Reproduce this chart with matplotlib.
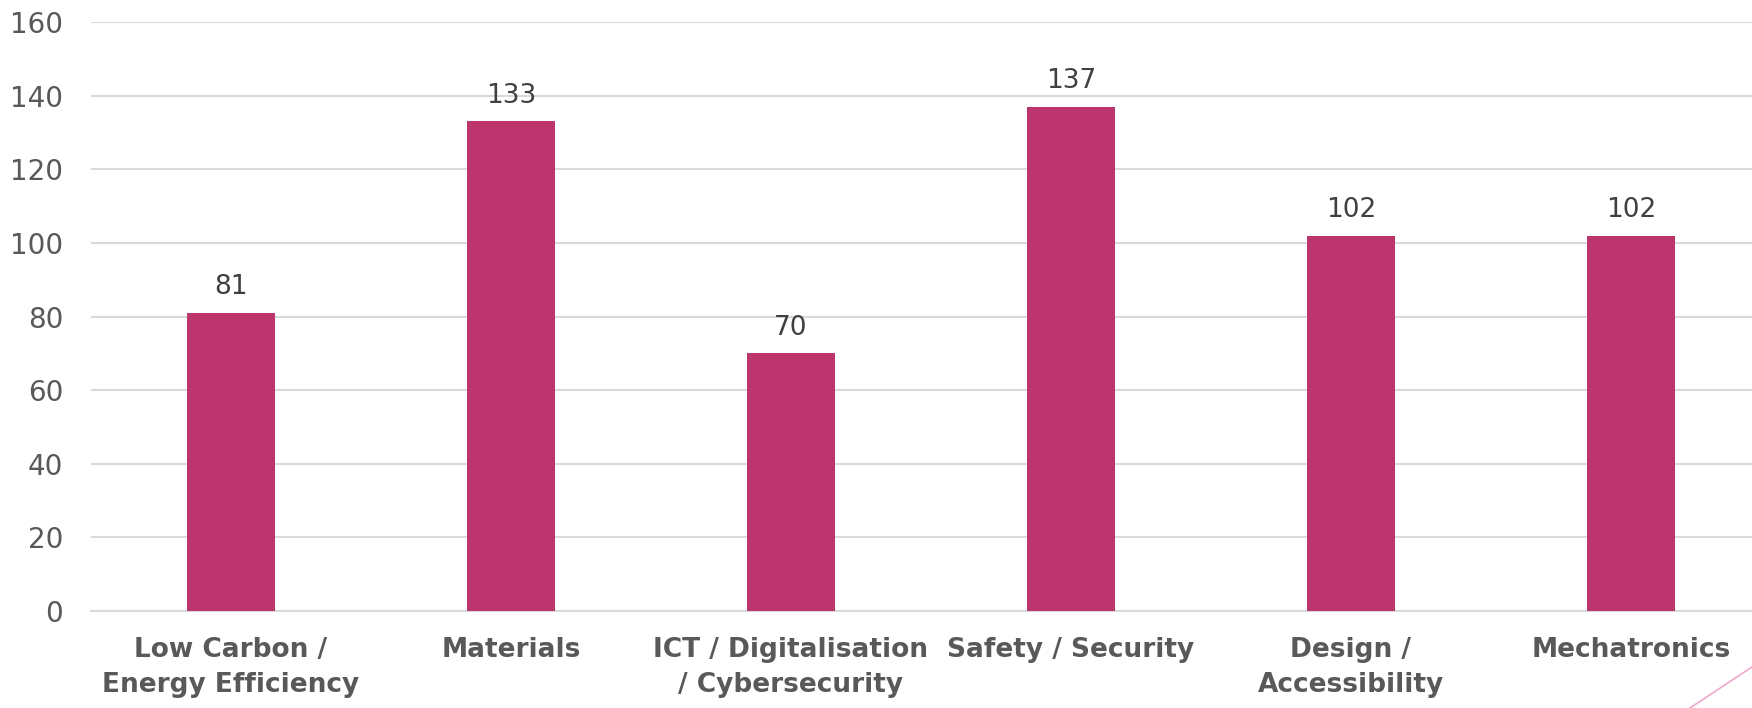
import matplotlib.pyplot as plt
import matplotlib
from matplotlib.lines import Line2D

matplotlib.rcParams['font.family'] = ['DejaVu Sans']

categories = ['Low Carbon /\nEnergy Efficiency', 'Materials', 'ICT / Digitalisation\n/ Cybersecurity',
              'Safety / Security', 'Design /\nAccessibility', 'Mechatronics']
values = [81, 133, 70, 137, 102, 102]
yticks = [0, 20, 40, 60, 80, 100, 120, 140, 160]

W, H = 1752, 708
fig = plt.figure(figsize=(W / 100, H / 100), dpi=100)
# axes run a little past the right edge, like the cropped original
ax = fig.add_axes([91 / W, (H - 611) / H, 1680 / W, (611 - 22) / H])

x = range(len(categories))
bars = ax.bar(x, values, width=0.314, color='#BC356C', zorder=3)
for bar, val in zip(bars, values):
    ax.annotate(f'{val}', (bar.get_x() + bar.get_width() / 2, bar.get_height()),
                xytext=(0, 9), textcoords='offset points', ha='center', va='bottom',
                fontsize=19, color='#404040')

ax.set_xlim(-0.5, len(categories) - 0.5)
ax.set_ylim(0, 160)
ax.set_yticks(yticks)
ax.yaxis.grid(True, color='#d9d9d9', linewidth=1.5, zorder=0)
ax.set_xticks(list(x))
ax.set_xticklabels(categories, fontsize=19, fontweight='bold', color='#595959', linespacing=1.45)
ax.tick_params(axis='y', labelsize=20, labelcolor='#595959', length=0, pad=20)
ax.tick_params(axis='x', length=0, pad=19)
for s in ['top', 'right', 'left']:
    ax.spines[s].set_visible(False)
ax.spines['bottom'].set_color('#d9d9d9')
ax.spines['bottom'].set_linewidth(1.5)

# decorative pink stroke in the lower right corner
fig.add_artist(Line2D([1690 / W, 1.0], [0.0, (H - 667) / H], transform=fig.transFigure,
                      color='#F4A6CF', linewidth=1.2))

plt.savefig('out.png', dpi=100)
